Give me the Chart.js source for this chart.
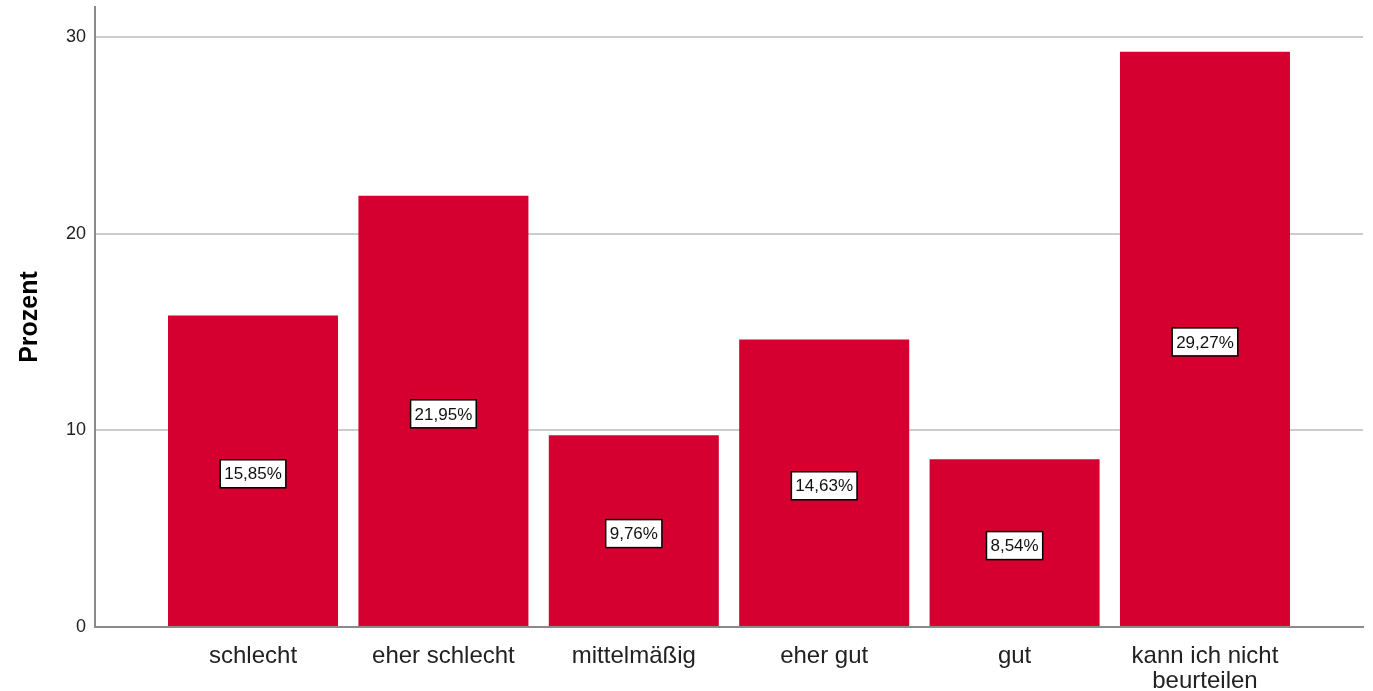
<!DOCTYPE html>
<html>
<head>
<meta charset="utf-8">
<script src="https://cdn.jsdelivr.net/npm/chart.js@4/dist/chart.umd.min.js"></script>
<style>
  html, body { margin: 0; padding: 0; background: #fff; }
  #wrap { width: 1373px; height: 691px; position: relative; }
</style>
</head>
<body>
<div id="wrap"><canvas id="barChart"></canvas></div>
<script>
const categories = ['schlecht', 'eher schlecht', 'mittelmäßig', 'eher gut', 'gut', ['kann ich nicht', 'beurteilen']];
const percentValues = [15.85, 21.95, 9.76, 14.63, 8.54, 29.27];
const yTicks = [0, 10, 20, 30];

const barColor = '#d5002f';

// white boxed percent label in the middle of each bar
const valueLabels = {
    id: 'valueLabels',
    afterDatasetsDraw(chart) {
        const ctx = chart.ctx;
        const meta = chart.getDatasetMeta(0);
        ctx.save();
        ctx.font = '17px "Liberation Sans", Arial, sans-serif';
        ctx.textAlign = 'center';
        ctx.textBaseline = 'middle';
        meta.data.forEach((bar, i) => {
            const text = percentValues[i].toFixed(2).replace('.', ',') + '%';
            const w = ctx.measureText(text).width + 8;
            const h = 28;
            const cx = bar.x;
            const cy = (bar.y + bar.base) / 2 + 3;
            ctx.fillStyle = '#fff';
            ctx.fillRect(cx - w / 2, cy - h / 2, w, h);
            ctx.strokeStyle = '#000';
            ctx.lineWidth = 1.5;
            ctx.strokeRect(cx - w / 2, cy - h / 2, w, h);
            ctx.fillStyle = '#111';
            ctx.fillText(text, cx, cy + 1);
        });
        ctx.restore();
    }
};

const ctx = document.getElementById('barChart').getContext('2d');
new Chart(ctx, {
    type: 'bar',
    data: {
        datasets: [{
            data: percentValues.map((v, i) => ({ x: i, y: v })),
            backgroundColor: barColor,
            borderWidth: 0,
            barPercentage: 0.893,
            categoryPercentage: 1
        }]
    },
    options: {
        responsive: true,
        maintainAspectRatio: false,
        animation: false,
        layout: { padding: { top: 7, right: 10, left: 0, bottom: 0 } },
        plugins: {
            legend: { display: false },
            tooltip: { enabled: false }
        },
        scales: {
            x: {
                type: 'linear',
                offset: false,
                min: -0.83,
                max: 5.83,
                grid: { display: false, drawTicks: false },
                border: { display: true, color: '#8a8a8a', width: 2 },
                afterBuildTicks: scale => {
                    scale.ticks = categories.map((_, i) => ({ value: i }));
                },
                afterFit: scale => {
                    scale.height = 64;
                    scale.paddingLeft = 0;
                    scale.paddingRight = 0;
                },
                ticks: {
                    autoSkip: false,
                    maxRotation: 0,
                    padding: 17,
                    color: '#222',
                    font: { family: '"Liberation Sans", Arial, sans-serif', size: 24, lineHeight: 1.05 },
                    callback: v => categories[v]
                }
            },
            y: {
                min: 0,
                max: 31.55,
                afterBuildTicks: scale => {
                    scale.ticks = yTicks.map(v => ({ value: v }));
                },
                afterFit: scale => {
                    scale.width = 95;
                    scale.paddingTop = 0;
                    scale.paddingBottom = 0;
                },
                grid: { color: '#cccccc', lineWidth: 2, drawTicks: false },
                border: { display: true, color: '#8a8a8a', width: 2 },
                ticks: {
                    padding: 9,
                    color: '#222',
                    font: { family: '"Liberation Sans", Arial, sans-serif', size: 18 }
                },
                title: {
                    display: true,
                    text: 'Prozent',
                    color: '#000',
                    padding: { top: 15, bottom: 0 },
                    font: { family: '"Liberation Sans", Arial, sans-serif', size: 25, weight: 'bold' }
                }
            }
        }
    },
    plugins: [valueLabels]
});
</script>
</body>
</html>
